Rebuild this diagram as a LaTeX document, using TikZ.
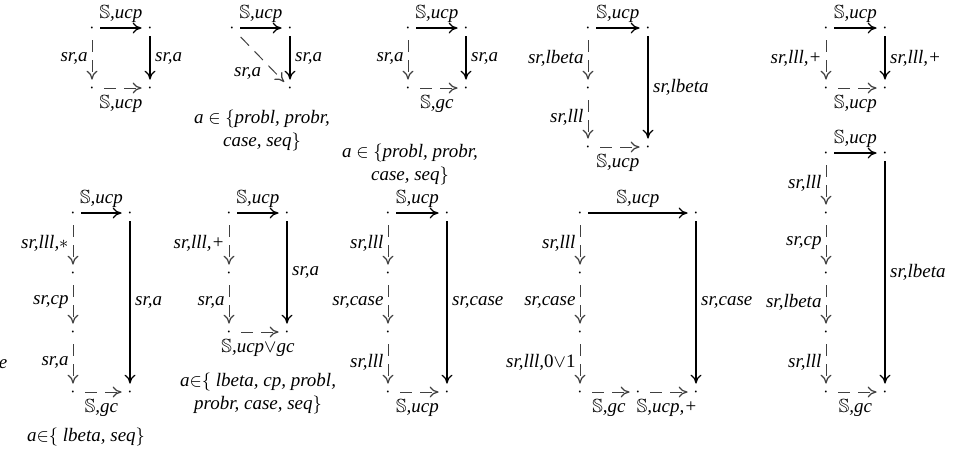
\documentclass[tikz,border=0pt]{standalone}
\usepackage{amssymb}
\usepackage{fontspec}
\setmainfont{Liberation Serif}
\usetikzlibrary{arrows.meta}

\newcommand{\bbS}{$\mathbb{S}$}

\begin{document}
\begin{tikzpicture}[x=0.5pt, y=-0.5pt, >={To[length=4.5pt,width=5.5pt,line width=0.6pt]},
    every node/.style={font=\fontsize{9.5}{11}\selectfont\itshape, inner sep=2pt},
    captxt/.style={align=center, font=\fontsize{9.5}{11.5}\selectfont\itshape},
    pt/.style={circle, inner sep=0pt, minimum size=8pt},
    solidarr/.style={->, line width=1.2pt},
    dasharr/.style={->, line width=0.5pt, draw=black!75, dash pattern=on 6pt off 4pt, dash phase=8pt}]
    \useasboundingbox (0,0) rectangle (975,457);

    % top row, first square
    \node[pt] (q1nw) at (92,28) {$\cdot$};
    \node[pt] (q1ne) at (150,28) {$\cdot$};
    \node[pt] (q1sw) at (92,88) {$\cdot$};
    \node[pt] (q1se) at (150,88) {$\cdot$};
    \draw[solidarr] (q1nw) -- node[above] {\bbS,ucp} (q1ne);
    \draw[solidarr] (q1ne) -- node[right] {sr,a} (q1se);
    \draw[dasharr] (q1nw) -- node[left] {sr,a} (q1sw);
    \draw[dasharr] (q1sw) -- node[below=1.5pt] {\bbS,ucp} (q1se);

    % triangle
    \node[pt] (q2nw) at (232,28) {$\cdot$};
    \node[pt] (q2ne) at (290,28) {$\cdot$};
    \node[pt] (q2se) at (290,88) {$\cdot$};
    \draw[solidarr] (q2nw) -- node[above] {\bbS,ucp} (q2ne);
    \draw[solidarr] (q2ne) -- node[right] {sr,a} (q2se);
    \draw[dasharr] (q2nw) -- node[below left, pos=0.6] {sr,a} (q2se);
    \node[captxt] (q2cap) at (262,130) {a $\in$ $\{$probl, probr,\\ case, seq$\}$};

    % square to gc
    \node[pt] (q3nw) at (408,28) {$\cdot$};
    \node[pt] (q3ne) at (466,28) {$\cdot$};
    \node[pt] (q3sw) at (408,88) {$\cdot$};
    \node[pt] (q3se) at (466,88) {$\cdot$};
    \draw[solidarr] (q3nw) -- node[above] {\bbS,ucp} (q3ne);
    \draw[solidarr] (q3ne) -- node[right] {sr,a} (q3se);
    \draw[dasharr] (q3nw) -- node[left] {sr,a} (q3sw);
    \draw[dasharr] (q3sw) -- node[below=1.5pt] {\bbS,gc} (q3se);
    \node[captxt] (q3cap) at (410,164) {a $\in$ $\{$probl, probr,\\ case, seq$\}$};

    % lbeta then lll
    \node[pt] (q4nw) at (588,28) {$\cdot$};
    \node[pt] (q4ne) at (648,28) {$\cdot$};
    \node[pt] (q4w) at (588,88) {$\cdot$};
    \node[pt] (q4sw) at (588,147) {$\cdot$};
    \node[pt] (q4se) at (648,147) {$\cdot$};
    \draw[solidarr] (q4nw) -- node[above] {\bbS,ucp} (q4ne);
    \draw[solidarr] (q4ne) -- node[right] {sr,lbeta} (q4se);
    \draw[dasharr] (q4nw) -- node[left] {sr,lbeta} (q4w);
    \draw[dasharr] (q4w) -- node[left] {sr,lll} (q4sw);
    \draw[dasharr] (q4sw) -- node[below=1.5pt] {\bbS,ucp} (q4se);

    % lll,+
    \node[pt] (q5nw) at (826,28) {$\cdot$};
    \node[pt] (q5ne) at (885,28) {$\cdot$};
    \node[pt] (q5sw) at (826,88) {$\cdot$};
    \node[pt] (q5se) at (885,88) {$\cdot$};
    \draw[solidarr] (q5nw) -- node[above] {\bbS,ucp} (q5ne);
    \draw[solidarr] (q5ne) -- node[right] {sr,lll,+} (q5se);
    \draw[dasharr] (q5nw) -- node[left] {sr,lll,+} (q5sw);
    \draw[dasharr] (q5sw) -- node[below=1.5pt] {\bbS,ucp} (q5se);

    % bottom row
    \node (stray) at (3,364) {e};

    \node[pt] (q6nw) at (73,213) {$\cdot$};
    \node[pt] (q6ne) at (130,213) {$\cdot$};
    \node[pt] (q6w1) at (73,273) {$\cdot$};
    \node[pt] (q6w2) at (73,332) {$\cdot$};
    \node[pt] (q6sw) at (73,392) {$\cdot$};
    \node[pt] (q6se) at (130,392) {$\cdot$};
    \draw[solidarr] (q6nw) -- node[above] {\bbS,ucp} (q6ne);
    \draw[solidarr] (q6ne) -- node[right] {sr,a} (q6se);
    \draw[dasharr] (q6nw) -- node[left] {sr,lll,$*$} (q6w1);
    \draw[dasharr] (q6w1) -- node[left] {sr,cp} (q6w2);
    \draw[dasharr] (q6w2) -- node[left] {sr,a} (q6sw);
    \draw[dasharr] (q6sw) -- node[below=1.5pt] {\bbS,gc} (q6se);
    \node[captxt] (q6cap) at (86,437) {a$\in$$\{$ lbeta, seq$\}$};

    \node[pt] (q7nw) at (229,213) {$\cdot$};
    \node[pt] (q7ne) at (287,213) {$\cdot$};
    \node[pt] (q7w) at (229,273) {$\cdot$};
    \node[pt] (q7sw) at (229,332) {$\cdot$};
    \node[pt] (q7se) at (287,332) {$\cdot$};
    \draw[solidarr] (q7nw) -- node[above] {\bbS,ucp} (q7ne);
    \draw[solidarr] (q7ne) -- node[right] {sr,a} (q7se);
    \draw[dasharr] (q7nw) -- node[left] {sr,lll,+} (q7w);
    \draw[dasharr] (q7w) -- node[left] {sr,a} (q7sw);
    \draw[dasharr] (q7sw) -- node[below=1.5pt] {\bbS,ucp$\vee$gc} (q7se);
    \node[captxt] (q7cap) at (258,393) {a$\in$$\{$ lbeta, cp, probl,\\ probr, case, seq$\}$};

    \node[pt] (q8nw) at (388,213) {$\cdot$};
    \node[pt] (q8ne) at (447,213) {$\cdot$};
    \node[pt] (q8w1) at (388,273) {$\cdot$};
    \node[pt] (q8w2) at (388,332) {$\cdot$};
    \node[pt] (q8sw) at (388,392) {$\cdot$};
    \node[pt] (q8se) at (447,392) {$\cdot$};
    \draw[solidarr] (q8nw) -- node[above] {\bbS,ucp} (q8ne);
    \draw[solidarr] (q8ne) -- node[right] {sr,case} (q8se);
    \draw[dasharr] (q8nw) -- node[left] {sr,lll} (q8w1);
    \draw[dasharr] (q8w1) -- node[left] {sr,case} (q8w2);
    \draw[dasharr] (q8w2) -- node[left] {sr,lll} (q8sw);
    \draw[dasharr] (q8sw) -- node[below=1.5pt] {\bbS,ucp} (q8se);

    \node[pt] (q9nw) at (580,213) {$\cdot$};
    \node[pt] (q9ne) at (696,213) {$\cdot$};
    \node[pt] (q9w1) at (580,273) {$\cdot$};
    \node[pt] (q9w2) at (580,332) {$\cdot$};
    \node[pt] (q9sw) at (580,392) {$\cdot$};
    \node[pt] (q9s) at (638,392) {$\cdot$};
    \node[pt] (q9se) at (696,392) {$\cdot$};
    \draw[solidarr] (q9nw) -- node[above] {\bbS,ucp} (q9ne);
    \draw[solidarr] (q9ne) -- node[right] {sr,case} (q9se);
    \draw[dasharr] (q9nw) -- node[left] {sr,lll} (q9w1);
    \draw[dasharr] (q9w1) -- node[left] {sr,case} (q9w2);
    \draw[dasharr] (q9w2) -- node[left] {sr,lll,\textup{0}$\vee$\textup{1}} (q9sw);
    \draw[dasharr] (q9sw) -- node[below=1.5pt] {\bbS,gc} (q9s);
    \draw[dasharr] (q9s) -- node[below=1.5pt] {\bbS,ucp,+} (q9se);

    \node[pt] (q10nw) at (826,153) {$\cdot$};
    \node[pt] (q10ne) at (885,153) {$\cdot$};
    \node[pt] (q10w1) at (826,213) {$\cdot$};
    \node[pt] (q10w2) at (826,273) {$\cdot$};
    \node[pt] (q10w3) at (826,332) {$\cdot$};
    \node[pt] (q10sw) at (826,392) {$\cdot$};
    \node[pt] (q10se) at (885,392) {$\cdot$};
    \draw[solidarr] (q10nw) -- node[above] {\bbS,ucp} (q10ne);
    \draw[solidarr] (q10ne) -- node[right] {sr,lbeta} (q10se);
    \draw[dasharr] (q10nw) -- node[left] {sr,lll} (q10w1);
    \draw[dasharr] (q10w1) -- node[left] {sr,cp} (q10w2);
    \draw[dasharr] (q10w2) -- node[left] {sr,lbeta} (q10w3);
    \draw[dasharr] (q10w3) -- node[left] {sr,lll} (q10sw);
    \draw[dasharr] (q10sw) -- node[below=1.5pt] {\bbS,gc} (q10se);
\end{tikzpicture}
\end{document}
